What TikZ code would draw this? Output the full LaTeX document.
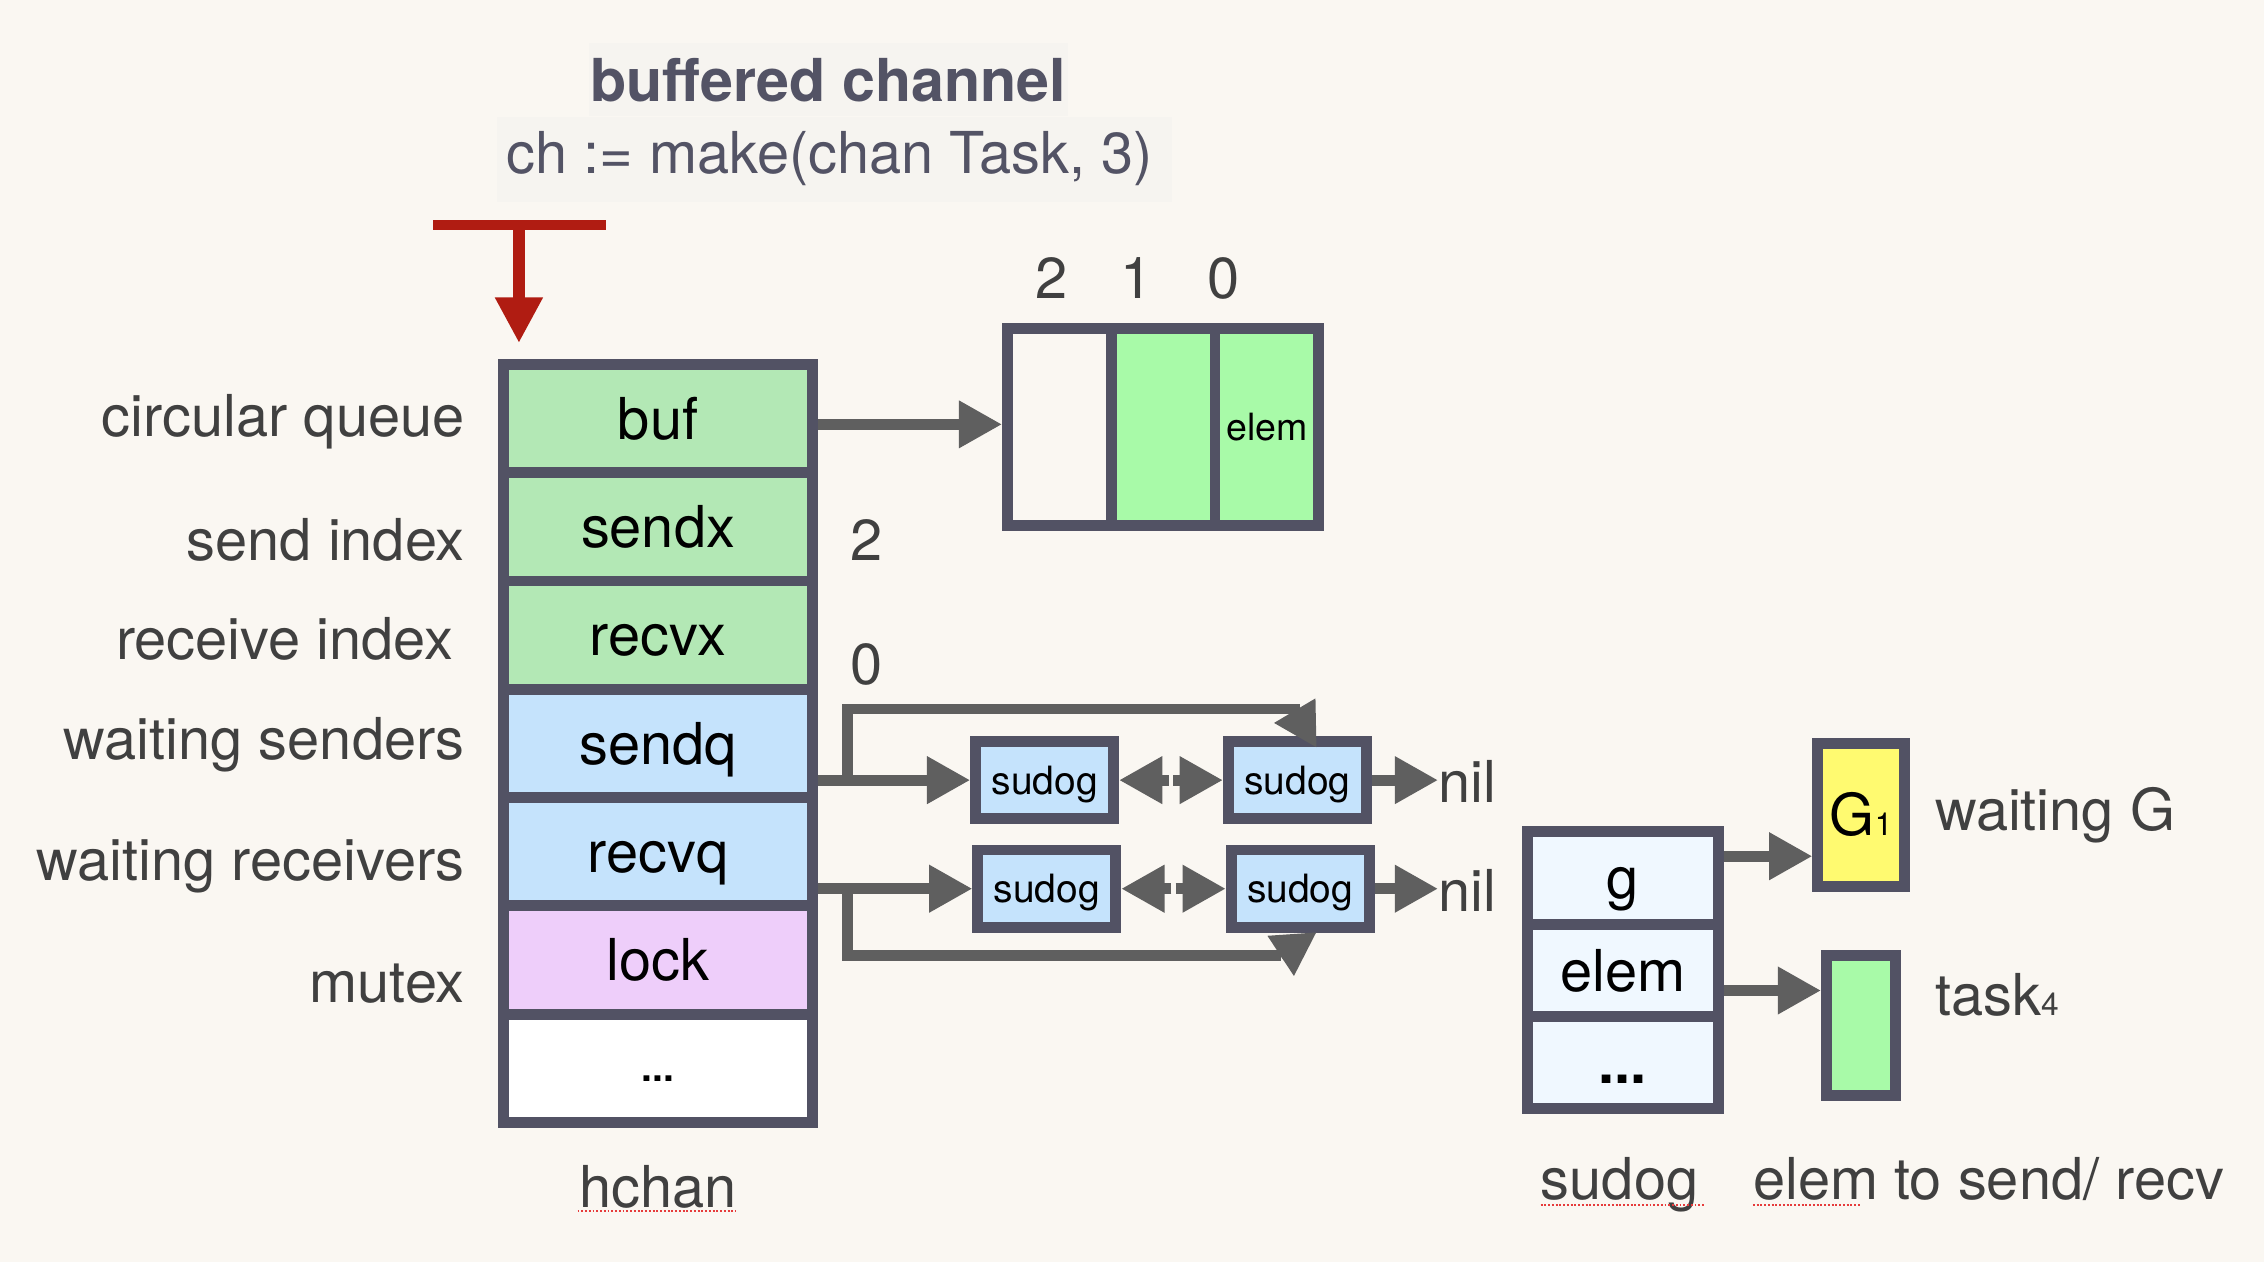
\documentclass[tikz,border=0pt]{standalone}
\usepackage{fontspec}
\setmainfont{TeX Gyre Heros}
\usetikzlibrary{arrows.meta,calc}
\definecolor{bg}{RGB}{250,247,242}
\definecolor{bord}{RGB}{82,82,100}
\definecolor{arrg}{RGB}{95,95,95}
\definecolor{fgreen}{RGB}{179,232,181}
\definecolor{fblue}{RGB}{197,227,252}
\definecolor{flock}{RGB}{238,206,250}
\definecolor{bgreen}{RGB}{168,250,168}
\definecolor{gyel}{RGB}{255,250,112}
\definecolor{sblue}{RGB}{240,248,255}
\definecolor{lbl}{RGB}{64,64,64}
\definecolor{ttl}{RGB}{83,83,101}
\definecolor{redT}{RGB}{176,28,18}
\definecolor{hl}{RGB}{246,244,240}
\definecolor{spell}{RGB}{230,60,60}
\begin{document}
\begin{tikzpicture}[x=1pt,y=-1pt,
  big/.style={font=\fontsize{40}{40}\selectfont},
  fld/.style={draw=bord,line width=7.5pt,minimum width=213.9pt,minimum height=75pt,inner sep=0pt,big,text height=28.7pt,text depth=0pt},
  cellbox/.style={draw=bord,line width=7.5pt,minimum width=71.8pt,minimum height=135.9pt,inner sep=0pt},
  sdg/.style={draw=bord,line width=7.5pt,fill=fblue,minimum width=95.5pt,minimum height=53.6pt,inner sep=0pt,font=\fontsize{27}{27}\selectfont,text height=19.4pt,text depth=0pt},
  sfld/.style={draw=bord,line width=7.5pt,fill=sblue,minimum width=132pt,minimum height=64pt,inner sep=0pt,big,text height=28.7pt,text depth=0pt},
  lab/.style={big,text=lbl,inner sep=0pt},
  arr/.style={draw=arrg,line width=7.5pt,-{Triangle[length=30pt,width=31pt]}},
  ln/.style={draw=arrg,line width=7.5pt},
  spl/.style={draw=spell,line width=1.3pt,dash pattern=on 1.3pt off 1.3pt}
]
\fill[bg] (0,0) rectangle (1568,874);
\useasboundingbox (0,0) rectangle (1568,874);

% title
\fill[hl] (408,30) rectangle (740,80);
\fill[hl] (344,81) rectangle (812,140);
\node[anchor=base,inner sep=0pt,font=\fontsize{41}{41}\selectfont\bfseries,text=ttl] (title) at (573.6,70.5) {buffered channel};
\node[anchor=base,inner sep=0pt,big,text=ttl] (code) at (574.6,120.5) {ch := make(chan Task, 3)};

% red pointer
\coordinate (rl) at (300,155.8);
\coordinate (rr) at (420,155.8);
\coordinate (rm) at (359.4,155.8);
\coordinate (rt) at (359.4,237.6);
\draw[redT,line width=7pt] (rl) -- (rr);
\draw[redT,line width=8pt,-{Triangle[length=31.6pt,width=31pt]}] (rm) -- (rt);

% hchan
\node[fld,fill=fgreen] (buf)   at (455.75,289.9) {buf};
\node[fld,fill=fgreen] (sendx) at (455.75,364.9) {sendx};
\node[fld,fill=fgreen] (recvx) at (455.75,439.9) {recvx};
\node[fld,fill=fblue]  (sendq) at (455.75,514.9) {sendq};
\node[fld,fill=fblue]  (recvq) at (455.75,589.9) {recvq};
\node[fld,fill=flock]  (lock)  at (455.75,664.9) {lock};
\node[fld,fill=white,font=\fontsize{27}{27}\selectfont\bfseries,text height=18.6pt] (hdots) at (455.75,739.9) {...};

% left labels
\node[lab,anchor=base east] (l1) at (322,302.4) {circular queue};
\node[lab,anchor=base east] (l2) at (322,388) {send index};
\node[lab,anchor=base east] (l3) at (314,457) {receive index};
\node[lab,anchor=base east] (l4) at (322,526) {waiting senders};
\node[lab,anchor=base east] (l5) at (322,610) {waiting receivers};
\node[lab,anchor=base east] (l6) at (322,694) {mutex};

% index values
\node[lab,anchor=base] (vsx) at (600,388) {2};
\node[lab,anchor=base] (vrx) at (600,474) {0};

% buffer
\node[cellbox,fill=bg] (c2) at (733.7,295.75) {};
\node[cellbox,fill=bgreen] (c1) at (805.6,295.75) {};
\node[cellbox,fill=bgreen,font=\fontsize{26}{26}\selectfont,text height=18.7pt,text depth=0pt] (c0) at (877.4,295.75) {elem};
\node[lab,anchor=base] (i2) at (728.5,207) {2};
\node[lab,anchor=base] (i1) at (787,207) {1};
\node[lab,anchor=base] (i0) at (847.5,207) {0};

\coordinate (bufa) at ($(buf.east)+(0,4)$);
\draw[arr] (bufa) -- (bufa -| c2.west);

% sudog queues
\node[sdg] (s11) at (723.5,540.3) {sudog};
\node[sdg] (s12) at (898.5,540.3) {sudog};
\node[sdg] (s21) at (725,615.5) {sudog};
\node[sdg] (s22) at (900.5,615.5) {sudog};
\node[lab,anchor=base west] (n1) at (996,555.5) {nil};
\node[lab,anchor=base west] (n2) at (996,631) {nil};

\draw[arr] (sendq.east |- s11.west) -- (s11.west);
\draw[arr] (recvq.east |- s21.west) -- (s21.west);

\coordinate (j1) at (587,540.3);
\coordinate (k1) at (587,491);
\coordinate (k1b) at (900,491);
\coordinate (h1) at (896,491);
\coordinate (t1) at (912,518);
\draw[ln] (j1) -- (k1) -- (k1b);
\draw[arr] (h1) -- (t1);

\coordinate (j2) at (587,615.5);
\coordinate (k2) at (587,662);
\coordinate (k2b) at (887,662);
\coordinate (t2) at (912,645.5);
\draw[ln] (j2) -- (k2) -- (k2b);
\draw[arr] (k2b) -- (t2);

\coordinate (m1l) at (809.5,540.3);
\coordinate (m1r) at (812.5,540.3);
\draw[arr] (m1l) -- (s11.east);
\draw[arr] (m1r) -- (s12.west);
\coordinate (m2l) at (811.2,615.5);
\coordinate (m2r) at (814.2,615.5);
\draw[arr] (m2l) -- (s21.east);
\draw[arr] (m2r) -- (s22.west);

\draw[arr] (s12.east) -- (s12.east -| n1.west);
\draw[arr] (s22.east) -- (s22.east -| n2.west);

% sudog struct
\node[sfld] (g)  at (1124,608) {g};
\node[sfld] (el) at (1124,672) {elem};
\node[sfld,font=\fontsize{40}{40}\selectfont\bfseries] (sd) at (1124,736) {...};

\node[draw=bord,line width=7.5pt,fill=gyel,minimum width=60pt,minimum height=99pt,inner sep=0pt,big,text height=28.7pt,text depth=0pt] (G1) at (1289,564.5) {G{\fontsize{22}{22}\selectfont 1}};
\node[draw=bord,line width=7.5pt,fill=bgreen,minimum width=48pt,minimum height=97pt,inner sep=0pt] (task) at (1289,710.5) {};

\coordinate (ga) at ($(g.east)+(0,-15)$);
\draw[arr] (ga) -- (ga -| G1.west);
\coordinate (ea) at ($(el.east)+(0,14)$);
\draw[arr] (ea) -- (ea -| task.west);

\node[lab,anchor=base west] (wg) at (1340,575) {waiting G};
\node[lab,anchor=base west] (tk) at (1340,703) {task{\fontsize{22}{22}\selectfont 4}};

% bottom labels
\node[lab,anchor=base] (hch) at (455.5,836.6) {hchan};
\node[lab,anchor=base west] (sdl) at (1067,831) {sudog};
\node[lab,anchor=base west] (etl) at (1214,831) {elem to send/ recv};
\draw[spl] (400,838.8) -- (510,838.8);
\draw[spl] (1067,834.8) -- (1180,834.8);
\draw[spl] (1214,834.8) -- (1288,834.8);
\end{tikzpicture}
\end{document}
